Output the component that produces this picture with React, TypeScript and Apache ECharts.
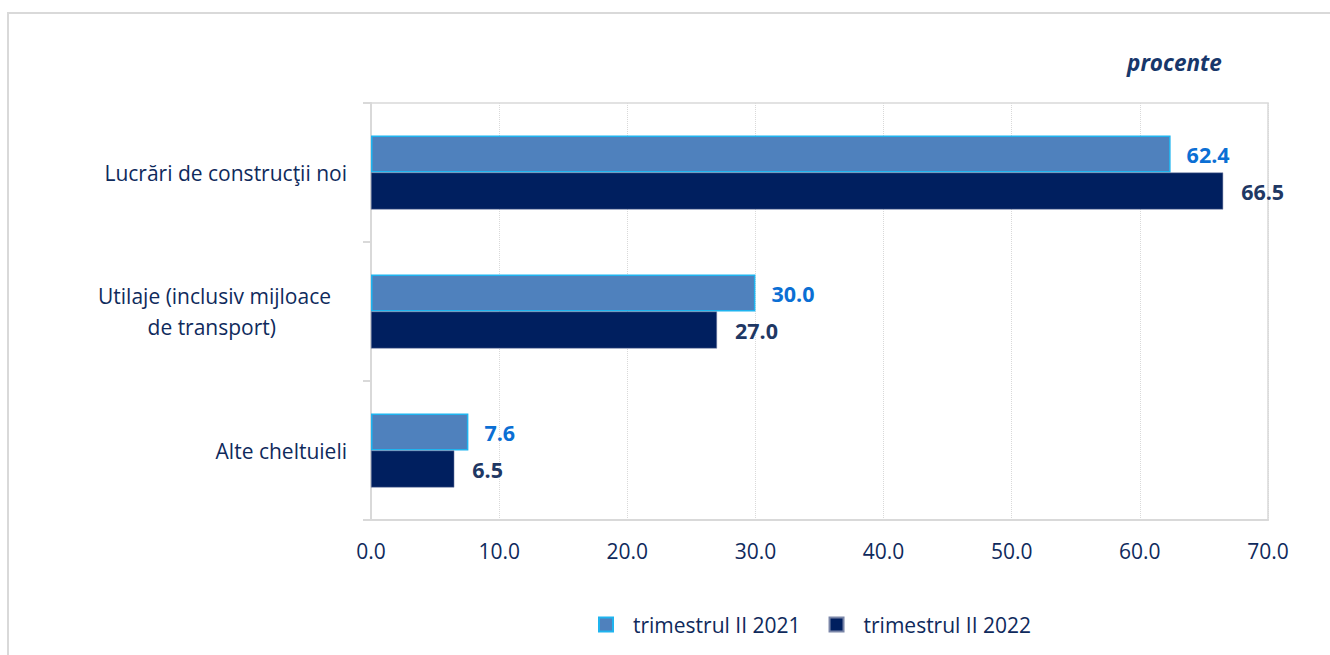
import React, { useEffect, useRef } from "react";
import * as echarts from "echarts";

const categories = [
  "Lucrări de construcţii noi",
  "Utilaje (inclusiv mijloace\nde transport)",
  "Alte cheltuieli",
];
const series2021 = [62.4, 30.0, 7.6];
const series2022 = [66.5, 27.0, 6.5];
const seriesNames = ["trimestrul II 2021", "trimestrul II 2022"];
const unitLabel = "procente";

const FONT = "Open Sans";
const NAVY = "#0f2a5c";
const FS = 21;

export default function App() {
  const ref = useRef<HTMLDivElement>(null);
  useEffect(() => {
    if (!ref.current) return;
    const chart = echarts.init(ref.current, undefined, { renderer: "svg" });
    chart.setOption({
      animation: false,
      textStyle: { fontFamily: FONT },
      title: {
        text: unitLabel,
        left: 1122,
        top: 46,
        textStyle: {
          fontFamily: FONT,
          fontSize: 22.5,
          fontStyle: "italic",
          fontWeight: "bold",
          color: "#17376b",
        },
      },
      grid: {
        left: 371,
        right: 62,
        top: 103,
        bottom: 135,
        show: true,
        borderColor: "#d9d9d9",
        borderWidth: 1.5,
        backgroundColor: "transparent",
      },
      legend: {
        left: 593,
        top: 609,
        itemWidth: 14,
        itemHeight: 14,
        itemGap: 28,
        icon: "rect",
        textStyle: {
          fontFamily: FONT,
          fontSize: FS,
          color: NAVY,
          padding: [0, 0, 0, 15],
        },
        data: seriesNames,
      },
      xAxis: {
        type: "value",
        min: 0,
        max: 70,
        interval: 10,
        axisLine: { show: true, lineStyle: { color: "#d9d9d9", width: 2 } },
        axisTick: { show: false },
        axisLabel: {
          margin: 20,
          fontFamily: FONT,
          fontSize: FS,
          color: NAVY,
          formatter: (v: number) => v.toFixed(1),
        },
        splitLine: {
          show: true,
          lineStyle: { color: "#d9d9d9", type: "dotted", width: 1 },
        },
      },
      yAxis: {
        type: "category",
        inverse: true,
        data: categories,
        axisLine: { show: true, lineStyle: { color: "#d9d9d9", width: 2 } },
        axisTick: { show: true, length: 8, lineStyle: { color: "#d9d9d9", width: 2 } },
        axisLabel: {
          margin: 24,
          fontFamily: FONT,
          fontSize: FS,
          color: NAVY,
          align: "right",
          formatter: (v: string) => {
            const lines = v.split("\n");
            if (lines.length === 1) return v;
            return lines.map((l, i) => `{l${i}|${l}}`).join("\n");
          },
          rich: {
            l0: { fontFamily: FONT, fontSize: FS, color: NAVY, lineHeight: 31, padding: [0, 16, 0, 0] },
            l1: { fontFamily: FONT, fontSize: FS, color: NAVY, lineHeight: 31, padding: [0, 71, 0, 0] },
          },
        },
      },
      series: [
        {
          name: seriesNames[0],
          type: "bar",
          data: series2021,
          barWidth: 37,
          barGap: "0%",
          itemStyle: { color: "#4f81bd", borderColor: "#1fb4ef", borderWidth: 1.5 },
          label: {
            show: true,
            position: "right",
            distance: 16,
            fontFamily: FONT,
            fontSize: 21.5,
            fontWeight: "bold",
            color: "#0b6fd4",
            formatter: (p: any) => Number(p.value).toFixed(1),
          },
        },
        {
          name: seriesNames[1],
          type: "bar",
          data: series2022,
          barWidth: 37,
          barGap: "0%",
          itemStyle: { color: "#001f5f", borderColor: "#7a86a8", borderWidth: 0.5 },
          label: {
            show: true,
            position: "right",
            distance: 18,
            fontFamily: FONT,
            fontSize: 21.5,
            fontWeight: "bold",
            color: "#1f3864",
            formatter: (p: any) => Number(p.value).toFixed(1),
          },
        },
      ],
    });
    return () => chart.dispose();
  }, []);
  return (
    <div style={{ position: "absolute", left: 0, top: 0, width: 1330, height: 655, background: "#fff" }}>
      <div
        style={{
          position: "absolute",
          left: 7,
          top: 12,
          width: 1330,
          height: 655,
          borderLeft: "2px solid #d9d9d9",
          borderTop: "2px solid #d9d9d9",
        }}
      />
      <div ref={ref} style={{ position: "absolute", left: 0, top: 0, width: 1330, height: 655 }} />
    </div>
  );
}
